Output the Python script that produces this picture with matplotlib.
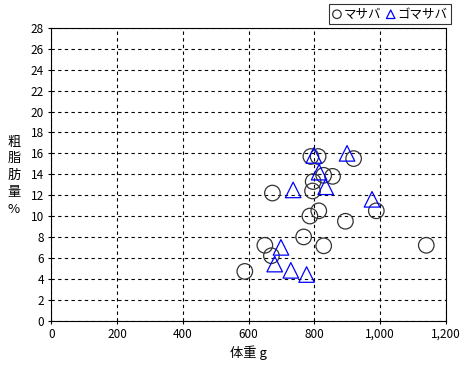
import numpy as np
import matplotlib.pyplot as plt
from matplotlib.ticker import FuncFormatter

plt.rcParams['font.family'] = ['Noto Sans CJK JP', 'DejaVu Sans']

# マサバ (circles)
masaba_w = [588, 649, 669, 672, 767, 786, 813, 794, 796, 828, 855, 789, 811, 919, 828, 894, 988, 1140]
masaba_f = [4.7, 7.2, 6.2, 12.2, 8.0, 10.0, 10.5, 12.4, 13.3, 13.9, 13.8, 15.7, 15.7, 15.5, 7.15, 9.5, 10.5, 7.2]

# ゴマサバ (triangles)
goma_w = [798, 899, 814, 834, 735, 975, 698, 679, 728, 776]
goma_f = [15.8, 16.0, 14.2, 12.8, 12.5, 11.6, 7.0, 5.4, 4.8, 4.4]

ylabel_chars = ['粗', '脂', '肪', '量', '%']

fig = plt.figure(figsize=(4.68, 3.67), dpi=100)
ax = fig.add_axes([0.110, 0.1267, 0.843, 0.797])

ax.scatter(masaba_w, masaba_f, s=125, marker='o', facecolors='none',
           edgecolors='#333333', linewidths=0.9, label='マサバ', zorder=3)
ax.scatter(goma_w, goma_f, s=125, marker='^', facecolors='none',
           edgecolors='#0000ff', linewidths=0.9, label='ゴマサバ', zorder=3)

ax.set_xlim(0, 1200)
ax.set_ylim(0, 28)
ax.set_xticks(np.arange(0, 1201, 200))
ax.set_yticks(np.arange(0, 29, 2))
ax.xaxis.set_major_formatter(FuncFormatter(lambda v, p: '{:,.0f}'.format(v)))
ax.grid(True, color='black', linestyle=(0, (3, 3)), linewidth=0.8)
ax.tick_params(labelsize=8.5, length=2, width=0.8)
for s in ax.spines.values():
    s.set_linewidth(0.8)

ax.set_xlabel('体重 g', fontsize=9.5, labelpad=3)

# vertical y label, one character per line
for i, ch in enumerate(ylabel_chars):
    fig.text(0.030, 0.613 - i * 0.046, ch, fontsize=9.5, ha='center', va='center')

leg = fig.legend(loc='upper right', bbox_to_anchor=(0.963, 0.988), ncol=2,
                 fontsize=9, frameon=True, fancybox=False, edgecolor='black',
                 handlelength=0.7, handletextpad=0.2, columnspacing=0.4,
                 borderpad=0.25, markerscale=0.55, borderaxespad=0)
leg.get_frame().set_linewidth(0.8)

fig.savefig('out.png', dpi=100)
